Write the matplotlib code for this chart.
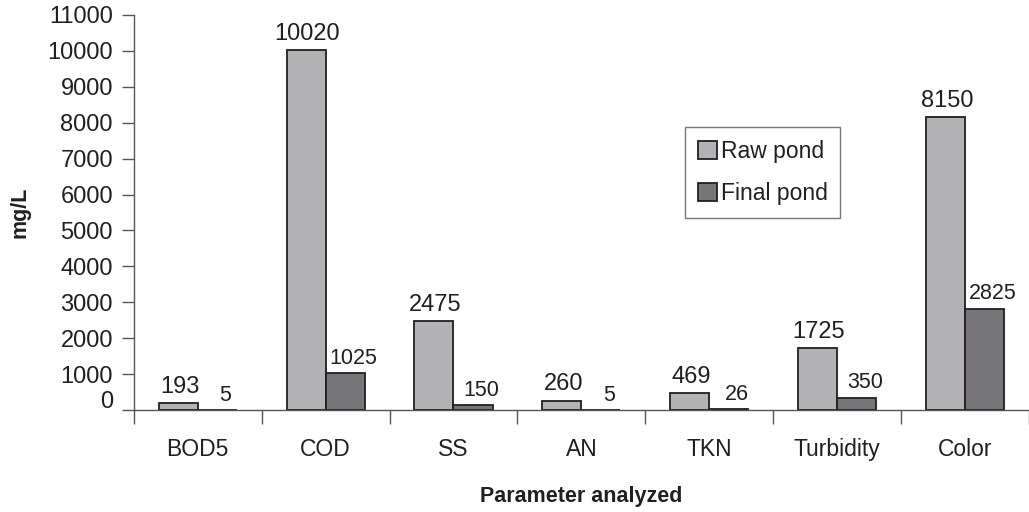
import numpy as np
import matplotlib.pyplot as plt
import matplotlib.transforms as mtransforms

plt.rcParams['font.family'] = ['Liberation Sans', 'DejaVu Sans']

params = ["BOD5", "COD", "SS", "AN", "TKN", "Turbidity", "Color"]
raw_pond = [193, 10020, 2475, 260, 469, 1725, 8150]
final_pond = [5, 1025, 150, 5, 26, 350, 2825]

ink = "#231f20"
fig = plt.figure(figsize=(10.29, 5.12), dpi=100)
ax = fig.add_axes([0.130, 0.199, 0.870, 0.772])

x = np.arange(len(params))
w = 0.305
b1 = ax.bar(x - w / 2, raw_pond, w, color="#b3b3b5", edgecolor=ink,
            linewidth=1.3, label="Raw pond")
b2 = ax.bar(x + w / 2, final_pond, w, color="#76767a", edgecolor=ink,
            linewidth=1.3, label="Final pond")

for xi, v in zip(x, raw_pond):
    ax.annotate(str(v), (xi - w / 2, v), xytext=(1, 4),
                textcoords="offset points", ha="center", va="bottom",
                fontsize=17, color=ink)
for xi, v in zip(x, final_pond):
    ax.annotate(str(v), (xi + w / 2, v), xytext=(6, 3),
                textcoords="offset points", ha="center", va="bottom",
                fontsize=15.5, color=ink)

ax.set_xlim(-0.5, len(params) - 0.5)
ax.set_ylim(0, 11000)
ax.set_yticks(np.arange(0, 11001, 1000))
ax.set_xticks(x)
ax.set_xticklabels(params)
ax.set_xticks(np.arange(-0.5, len(params) - 0.4, 1), minor=True)
ax.tick_params(axis="x", which="major", length=0, pad=20, labelsize=16.5,
               colors=ink)
ax.tick_params(axis="x", which="minor", length=10, width=1, color="#555555",
               direction="out")
ax.tick_params(axis="y", length=9, width=1, color="#555555", pad=6,
               labelsize=17, labelcolor=ink)

# lift the "0" label a little off the x axis
zero_lbl = ax.yaxis.get_major_ticks()[0].label1
zero_lbl.set_transform(zero_lbl.get_transform() +
                       mtransforms.ScaledTranslation(0, 8 / 72, fig.dpi_scale_trans))

for side in ["top", "right"]:
    ax.spines[side].set_visible(False)
for side in ["left", "bottom"]:
    ax.spines[side].set_color("#555555")
    ax.spines[side].set_linewidth(1)

ax.set_ylabel("mg/L", fontsize=15.5, fontweight="bold", color=ink, labelpad=12)
ax.set_xlabel("Parameter analyzed", fontsize=15.5, fontweight="bold", color=ink,
              labelpad=18)

leg = ax.legend(loc="upper left", bbox_to_anchor=(0.616, 0.716), fontsize=16.5,
                frameon=True, fancybox=False, handlelength=0.85,
                handleheight=0.85, handletextpad=0.15, borderpad=0.55,
                labelspacing=0.85, borderaxespad=0)
leg.get_frame().set_edgecolor("#555555")
leg.get_frame().set_linewidth(1)
for t in leg.get_texts():
    t.set_color(ink)

fig.savefig("out.png", dpi=100)
